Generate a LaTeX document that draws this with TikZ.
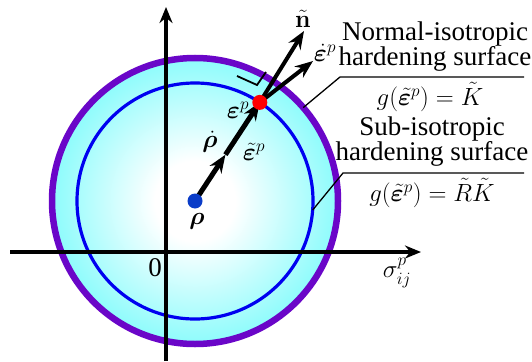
\documentclass[tikz,border=0pt]{standalone}
\usepackage{amsmath}
\usepackage{bm}
\usepackage[no-math]{fontspec}
\setmainfont{Liberation Serif}
\usepackage{tikz}
\usetikzlibrary{arrows.meta,calc}
\definecolor{ringcyan}{HTML}{7AFBFB}
\definecolor{ringpurple}{HTML}{6A06C8}
\definecolor{ringblue}{HTML}{0000F0}
\definecolor{dotblue}{HTML}{0A3CC8}
\pgfdeclareradialshading{ringfill}{\pgfpoint{0bp}{0bp}}{color(0bp)=(white); color(7bp)=(white); color(28bp)=(ringcyan); color(50bp)=(ringcyan)}

\begin{document}
\begin{tikzpicture}[x=1pt, y=-1pt, font=\fontsize{27}{25}\selectfont,
    axis/.style={line width=3.5pt, -{Stealth[length=16pt, width=13pt]}},
    vec/.style={line width=4pt, -{Stealth[length=18pt, width=14pt, inset=6pt]}},
    lead/.style={line width=1.3pt},
    dot/.style={circle, inner sep=0pt, minimum size=15pt},
    eqn/.style={font=\fontsize{23}{23}\selectfont}]
  \useasboundingbox (0,0) rectangle (532,361);
  \coordinate (o) at (195,201);
  % surfaces
  \shade[shading=ringfill] (o) circle[radius=143pt];
  \draw[ringpurple, line width=6.5pt] (o) circle[radius=143pt];
  \draw[ringblue, line width=3.2pt] (o) circle[radius=118pt];
  % axes
  \coordinate (xa) at (10,252);
  \coordinate (xb) at (421,252);
  \coordinate (ya) at (166,361);
  \coordinate (yb) at (166,7);
  \draw[axis] (xa) -- (xb);
  \draw[axis] (ya) -- (yb);
  \node (zero) at (155,268) {0};
  \node[eqn] (sig) at (397,273) {$\sigma_{ij}^{p}$};
  % points
  \coordinate (ep) at ($(o)+(56.7:118pt)$);
  \coordinate (mid) at ($(o)!0.47!(ep)$);
  \coordinate (ntip) at (304,31);
  \coordinate (dtip) at (313,61);
  \draw[vec, line width=5pt] (o) -- (mid);
  \draw[vec, line width=5pt] (mid) -- (ep);
  \draw[vec] (ep) -- (ntip);
  \draw[vec] (ep) -- (dtip);
  \node[dot, fill=dotblue] (rho) at (o) {};
  \node[dot, fill=red] (epdot) at (ep) {};
  % right angle
  \coordinate (ra) at (237,76);
  \coordinate (rb) at (257,85);
  \coordinate (rc) at (266,72);
  \draw[line width=1.8pt] (ra) -- (rb) -- (rc);
  % vector labels
  \node[eqn] (rholab) at (197,221) {$\bm{\rho}$};
  \node[eqn] (rhodot) at (210,142) {$\dot{\bm{\rho}}$};
  \node[eqn] (eptil) at (254,152) {$\tilde{\bm{\varepsilon}}^{p}$};
  \node[eqn] (eplab) at (238,110) {$\bm{\varepsilon}^{p}$};
  \node[eqn] (nlab) at (303,19) {$\tilde{\mathbf{n}}$};
  \node[eqn] (edot) at (325,53) {$\dot{\bm{\varepsilon}}^{p}$};
  % surface labels
  \node[align=center] (normal) at (435,47) {Normal-isotropic\\hardening surface};
  \node[eqn] (gnormal) at (430,97) {$g(\tilde{\bm{\varepsilon}}^{p})=\tilde{K}$};
  \node[align=center] (sub) at (432,142) {Sub-isotropic\\hardening surface};
  \node[eqn] (gsub) at (432,193) {$g(\tilde{\bm{\varepsilon}}^{p})=\tilde{R}\tilde{K}$};
  \coordinate (no) at ($(o)+(40.8:143pt)$);
  \coordinate (nk) at (340,77);
  \coordinate (ne) at (524,77);
  \coordinate (si) at ($(o)+(-4.4:118pt)$);
  \coordinate (sk) at (343,173);
  \coordinate (se) at (524,173);
  \draw[lead] (no) -- (nk) -- (ne);
  \draw[lead] (si) -- (sk) -- (se);
\end{tikzpicture}
\end{document}
